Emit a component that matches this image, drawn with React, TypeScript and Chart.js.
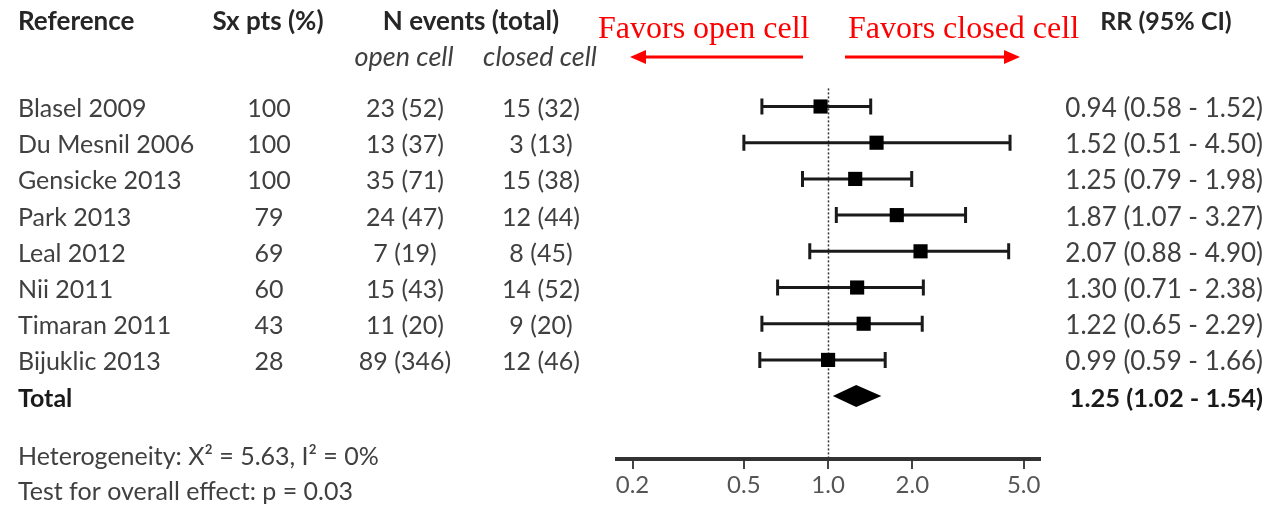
import React, { useEffect, useRef } from "react";
import { Chart, registerables } from "chart.js";

Chart.register(...registerables);

// ---- Data ----
const STUDIES = [
  "Blasel 2009",
  "Du Mesnil 2006",
  "Gensicke 2013",
  "Park 2013",
  "Leal 2012",
  "Nii 2011",
  "Timaran 2011",
  "Bijuklic 2013",
];
const SX_PTS = ["100", "100", "100", "79", "69", "60", "43", "28"];
const OPEN_EVENTS = ["23 (52)", "13 (37)", "35 (71)", "24 (47)", "7 (19)", "15 (43)", "11 (20)", "89 (346)"];
const CLOSED_EVENTS = ["15 (32)", "3 (13)", "15 (38)", "12 (44)", "8 (45)", "14 (52)", "9 (20)", "12 (46)"];
const RR_LABELS = [
  "0.94 (0.58 - 1.52)",
  "1.52 (0.51 - 4.50)",
  "1.25 (0.79 - 1.98)",
  "1.87 (1.07 - 3.27)",
  "2.07 (0.88 - 4.90)",
  "1.30 (0.71 - 2.38)",
  "1.22 (0.65 - 2.29)",
  "0.99 (0.59 - 1.66)",
];
// point estimates and CI limits as drawn
const RR_EST = [0.94, 1.49, 1.25, 1.76, 2.14, 1.27, 1.34, 1.0];
const CI_LOW = [0.58, 0.5, 0.81, 1.07, 0.86, 0.66, 0.58, 0.57];
const CI_HIGH = [1.42, 4.47, 1.99, 3.1, 4.42, 2.19, 2.17, 1.6];
const TOTAL_EST = [1.26];
const TOTAL_LOW = [1.04];
const TOTAL_HIGH = [1.55];
const TOTAL_LABEL = "1.25 (1.02 - 1.54)";
const X_TICKS = [0.2, 0.5, 1, 2, 5];
const HETEROGENEITY = "Heterogeneity: X\u00B2 = 5.63, I\u00B2 = 0%";
const OVERALL = "Test for overall effect: p = 0.03";

const FONT = "Lato, 'Open Sans', sans-serif";
const TEXT = "#404040";
const HEAD = "#262626";

const forestPlugin = {
  id: "forest",
  beforeDatasetsDraw(chart: any) {
    const { ctx, scales, chartArea } = chart;
    const x = scales.x;
    const y = scales.y;
    ctx.save();
    // reference line at RR = 1
    const x1 = Math.round(x.getPixelForValue(1)) + 0.5;
    ctx.strokeStyle = "#333";
    ctx.lineWidth = 1.5;
    ctx.setLineDash([2, 2]);
    ctx.beginPath();
    ctx.moveTo(x1, y.getPixelForValue(-0.5));
    ctx.lineTo(x1, chartArea.bottom);
    ctx.stroke();
    ctx.setLineDash([]);

    // confidence intervals
    ctx.strokeStyle = "#1a1a1a";
    ctx.lineWidth = 3;
    for (let i = 0; i < RR_EST.length; i++) {
      const py = y.getPixelForValue(i);
      const xl = x.getPixelForValue(CI_LOW[i]);
      const xh = x.getPixelForValue(CI_HIGH[i]);
      ctx.beginPath();
      ctx.moveTo(xl, py);
      ctx.lineTo(xh, py);
      ctx.moveTo(xl, py - 8);
      ctx.lineTo(xl, py + 8);
      ctx.moveTo(xh, py - 8);
      ctx.lineTo(xh, py + 8);
      ctx.stroke();
    }

    // pooled diamond
    const ty = y.getPixelForValue(STUDIES.length);
    const dl = x.getPixelForValue(TOTAL_LOW[0]);
    const dc = x.getPixelForValue(TOTAL_EST[0]);
    const dh = x.getPixelForValue(TOTAL_HIGH[0]);
    ctx.fillStyle = "#000";
    ctx.beginPath();
    ctx.moveTo(dl, ty);
    ctx.lineTo(dc, ty - 11);
    ctx.lineTo(dh, ty);
    ctx.lineTo(dc, ty + 11);
    ctx.closePath();
    ctx.fill();
    ctx.restore();
  },
  afterDraw(chart: any) {
    const { ctx, scales } = chart;
    const y = scales.y;
    ctx.save();
    ctx.textBaseline = "alphabetic";

    // headers
    ctx.fillStyle = HEAD;
    ctx.font = `bold 26px ${FONT}`;
    ctx.textAlign = "left";
    ctx.fillText("Reference", 18, 30);
    ctx.textAlign = "center";
    ctx.fillText("Sx pts (%)", 268, 30);
    ctx.fillText("N events (total)", 471, 30);
    ctx.font = `bold 25px ${FONT}`;
    ctx.fillText("RR (95% CI)", 1166, 30);
    ctx.fillStyle = TEXT;
    ctx.font = `italic 27px ${FONT}`;
    ctx.fillText("open cell", 404, 66);
    ctx.fillText("closed cell", 540, 66);

    // rows
    for (let i = 0; i < STUDIES.length; i++) {
      const by = y.getPixelForValue(i) + 10.5;
      ctx.font = `25px ${FONT}`;
      ctx.textAlign = "left";
      ctx.fillText(STUDIES[i], 18, by);
      ctx.textAlign = "center";
      ctx.fillText(SX_PTS[i], 269, by);
      ctx.fillText(OPEN_EVENTS[i], 405, by);
      ctx.fillText(CLOSED_EVENTS[i], 541, by);
      ctx.font = `26px ${FONT}`;
      ctx.textAlign = "right";
      ctx.fillText(RR_LABELS[i], 1263, by);
    }
    const tb = y.getPixelForValue(STUDIES.length) + 10.5;
    ctx.fillStyle = "#1a1a1a";
    ctx.font = `bold 25px ${FONT}`;
    ctx.textAlign = "left";
    ctx.fillText("Total", 18, tb);
    ctx.font = `bold 25.5px ${FONT}`;
    ctx.textAlign = "right";
    ctx.fillText(TOTAL_LABEL, 1263, tb);

    ctx.fillStyle = TEXT;
    ctx.font = `25px ${FONT}`;
    ctx.textAlign = "left";
    ctx.fillText(HETEROGENEITY, 18, 465);
    ctx.fillText(OVERALL, 18, 500);

    // favour annotations
    ctx.fillStyle = "#ff0000";
    ctx.strokeStyle = "#ff0000";
    ctx.font = "32px 'Liberation Serif', 'Times New Roman', serif";
    ctx.textAlign = "left";
    ctx.fillText("Favors open cell", 598, 38);
    ctx.fillText("Favors closed cell", 848, 38);
    ctx.lineWidth = 3;
    ctx.beginPath();
    ctx.moveTo(803, 57);
    ctx.lineTo(643, 57);
    ctx.moveTo(845, 57);
    ctx.lineTo(1005, 57);
    ctx.stroke();
    ctx.beginPath();
    ctx.moveTo(630, 57);
    ctx.lineTo(646, 50);
    ctx.lineTo(646, 64);
    ctx.closePath();
    ctx.moveTo(1020, 57);
    ctx.lineTo(1004, 50);
    ctx.lineTo(1004, 64);
    ctx.closePath();
    ctx.fill();
    ctx.restore();
  },
};

export default function App() {
  const ref = useRef<HTMLCanvasElement>(null);
  useEffect(() => {
    if (!ref.current) return;
    const chart = new Chart(ref.current, {
      type: "scatter",
      data: {
        datasets: [
          {
            data: RR_EST.map((v, i) => ({ x: v, y: i })),
            pointStyle: "rect",
            pointRadius: 10,
            backgroundColor: "#000",
            borderColor: "#000",
            borderWidth: 0,
          },
        ],
      },
      options: {
        responsive: false,
        animation: false,
        events: [],
        layout: { padding: { top: 69, left: 617, right: 226, bottom: 0 } },
        plugins: { legend: { display: false }, tooltip: { enabled: false } },
        scales: {
          x: {
            type: "logarithmic",
            min: 0.176,
            max: 5.72,
            afterBuildTicks: (s: any) => {
              s.ticks = X_TICKS.map((v) => ({ value: v }));
            },
            afterFit: (s: any) => {
              s.height = 46;
            },
            border: { display: true, color: "#333", width: 4 },
            grid: {
              display: true,
              drawOnChartArea: false,
              drawTicks: true,
              tickLength: 10,
              color: "#444",
              lineWidth: 2,
            },
            ticks: {
              autoSkip: false,
              maxRotation: 0,
              padding: 2,
              color: "#555",
              font: { family: FONT, size: 24 },
              callback: (v: any) => Number(v).toFixed(1),
            },
          },
          y: {
            type: "linear",
            display: false,
            reverse: true,
            min: -1.036,
            max: 9.737,
          },
        },
      },
      plugins: [forestPlugin],
    });
    return () => chart.destroy();
  }, []);
  return (
    <div style={{ position: "absolute", left: 0, top: 0, width: 1266, height: 505, background: "#fff" }}>
      <canvas ref={ref} width={1266} height={505} style={{ display: "block" }} />
    </div>
  );
}
